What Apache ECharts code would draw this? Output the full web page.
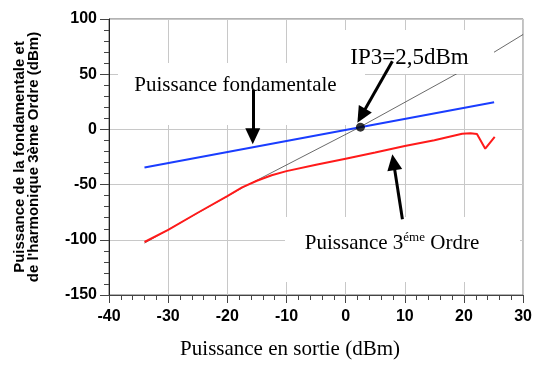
<!DOCTYPE html>
<html>
<head>
<meta charset="utf-8">
<script src="https://cdn.jsdelivr.net/npm/echarts@6.0.0/dist/echarts.min.js"></script>
<style>
html, body { margin: 0; padding: 0; background: #fff; }
#chart { width: 535px; height: 365px; }
</style>
</head>
<body>
<div id="chart"></div>
<script>
// puissance fondamentale (pente 1)
var fondX = [-34, 25.1];
var fondY = [-34.6, 24.6];

// puissance 3eme ordre
var ordre3X = [-34, -30, -25, -20, -17.5, -15, -12.5, -10, -5, 0, 5, 10, 15, 19.7, 21.1, 22.2, 23.6, 25.2];
var ordre3Y = [-102, -91, -75.5, -60.5, -52.5, -46.5, -41.5, -37.8, -32, -26.5, -21, -15.1, -9.8, -3.9, -3.4, -4.2, -17.5, -6.8];

// extrapolation du 3eme ordre (trait fin)
var extrapX = [-34, -17.4, 2.4, 18.75, 24.9, 30];
var extrapY = [-103, -52.7, 2.1, 50.3, 69.3, 86];

// point d'interception
var ip3 = [2.5, 2.0];

// fleches (debut -> fin)
var arrowFrom = [[-15.7, 36], [7.9, 61.7], [9.6, -81.3]];
var arrowTo = [[-15.7, -6.3], [2.66, 12.4], [8.1, -29.7]];

function pairs(xs, ys) {
    var out = [];
    for (var i = 0; i < xs.length; i++) out.push([xs[i], ys[i]]);
    return out;
}

var arrowLines = [];
for (var i = 0; i < arrowFrom.length; i++) {
    arrowLines.push([{ coord: arrowFrom[i] }, { coord: arrowTo[i] }]);
}

var dom = document.getElementById('chart');
var myChart = echarts.init(dom, null, { renderer: 'canvas' });

var serif = '"Liberation Serif", "Times New Roman", serif';
var sans = '"Liberation Sans", Arial, sans-serif';

var option = {
    animation: false,
    backgroundColor: '#fff',
    grid: {
        left: 109, right: 11, top: 19, bottom: 68,
        show: true,
        borderColor: '#666',
        borderWidth: 1,
        backgroundColor: 'transparent'
    },
    xAxis: {
        type: 'value',
        min: -40, max: 30, interval: 10,
        name: 'Puissance en sortie (dBm)',
        nameLocation: 'middle',
        nameGap: 44,
        nameTextStyle: { fontFamily: serif, fontSize: 21, color: '#000', padding: [0, 52, 0, 0] },
        axisLine: { show: true, onZero: false, lineStyle: { color: '#444', width: 1 } },
        axisTick: { show: true, length: 8, lineStyle: { color: '#444' } },
        minorTick: { show: true, splitNumber: 5, length: 5, lineStyle: { color: '#444' } },
        axisLabel: { margin: 14, fontFamily: sans, fontWeight: 'bold', fontSize: 16, color: '#000' },
        splitLine: { show: true, lineStyle: { color: '#c8c8c8', width: 1 } }
    },
    yAxis: {
        type: 'value',
        min: -150, max: 100, interval: 50,
        name: 'Puissance de la fondamentale et\nde l\'harmonique 3ème Ordre (dBm)',
        nameLocation: 'middle',
        nameRotate: 90,
        nameGap: 68,
        nameTextStyle: { fontFamily: sans, fontWeight: 'bold', fontSize: 15, lineHeight: 14, color: '#000' },
        axisLine: { show: true, onZero: false, lineStyle: { color: '#222', width: 1 } },
        axisTick: { show: true, length: 9, lineStyle: { color: '#444' } },
        minorTick: { show: true, splitNumber: 5, length: 5, lineStyle: { color: '#444' } },
        axisLabel: { margin: 12, fontFamily: sans, fontWeight: 'bold', fontSize: 16, color: '#000' },
        splitLine: { show: true, lineStyle: { color: '#c8c8c8', width: 1 } }
    },
    graphic: [
        { type: 'rect', z: 1, silent: true, shape: { x: 118, y: 63, width: 247, height: 62 }, style: { fill: '#fff' } },
        { type: 'rect', z: 3, silent: true, shape: { x: 338, y: 30, width: 156, height: 44 }, style: { fill: '#fff' } },
        { type: 'rect', z: 1, silent: true, shape: { x: 285, y: 217, width: 235, height: 65 }, style: { fill: '#fff' } },
        {
            type: 'text', z: 8, x: 235.5, y: 85,
            style: { text: 'Puissance fondamentale', font: '21px ' + serif, fill: '#000',
                     align: 'center', verticalAlign: 'middle', textAlign: 'center', textVerticalAlign: 'middle' }
        },
        {
            type: 'text', z: 8, x: 409.5, y: 58,
            style: { text: 'IP3=2,5dBm', font: '23px ' + serif, fill: '#000',
                     align: 'center', verticalAlign: 'middle', textAlign: 'center', textVerticalAlign: 'middle' }
        },
        {
            type: 'text', z: 8, x: 392, y: 243,
            style: {
                text: '{a|Puissance 3}{b|éme}{a| Ordre}',
                align: 'center', verticalAlign: 'middle', textAlign: 'center', textVerticalAlign: 'middle',
                rich: {
                    a: { fontFamily: serif, fontSize: 21, fill: '#000', lineHeight: 24 },
                    b: { fontFamily: serif, fontSize: 13, fill: '#000', lineHeight: 24, verticalAlign: 'top' }
                }
            }
        }
    ],
    series: [
        {
            name: 'extrapolation',
            type: 'line',
            z: 2,
            showSymbol: false,
            data: pairs(extrapX, extrapY),
            lineStyle: { color: '#444', width: 0.8 },
            silent: true
        },
        {
            name: 'Puissance 3eme ordre',
            type: 'line',
            z: 4,
            showSymbol: false,
            data: pairs(ordre3X, ordre3Y),
            lineStyle: { color: '#ff1a1a', width: 2 },
            silent: true
        },
        {
            name: 'Puissance fondamentale',
            type: 'line',
            z: 5,
            showSymbol: false,
            data: pairs(fondX, fondY),
            lineStyle: { color: '#1a3dff', width: 2 },
            silent: true,
            markLine: {
                silent: true,
                symbol: ['none', 'triangle'],
                symbolSize: [15, 16],
                label: { show: false },
                emphasis: { disabled: true },
                lineStyle: { color: '#000', width: 3, type: 'solid' },
                data: arrowLines
            }
        },
        {
            name: 'IP3',
            type: 'scatter',
            z: 6,
            symbol: 'circle',
            symbolSize: 9,
            itemStyle: { color: '#000' },
            data: [ip3],
            silent: true
        }
    ]
};

myChart.setOption(option, true);
</script>
</body>
</html>
